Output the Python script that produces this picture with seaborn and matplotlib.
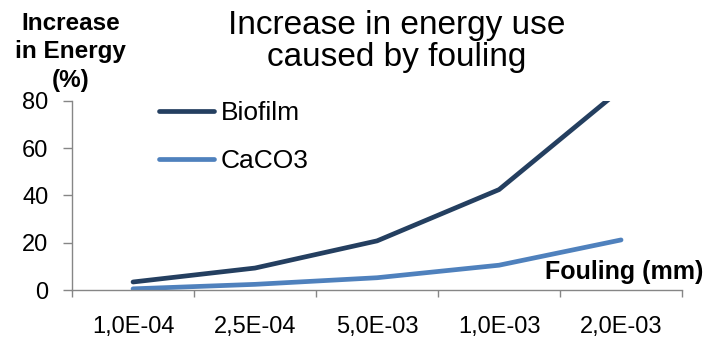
import matplotlib
matplotlib.use("Agg")
import matplotlib.pyplot as plt
import seaborn as sns
import pandas as pd
from matplotlib.ticker import FixedLocator

# Fouling thickness categories and the resulting increase in energy use (%)
fouling = ["1,0E-04", "2,5E-04", "5,0E-03", "1,0E-03", "2,0E-03"]
biofilm = [3.4, 9.3, 20.8, 42.5, 85.0]
caco3 = [0.5, 2.4, 5.2, 10.5, 21.2]

df = pd.DataFrame({
    "Fouling": fouling * 2,
    "Increase": biofilm + caco3,
    "Type": ["Biofilm"] * len(fouling) + ["CaCO3"] * len(fouling),
})

sns.set_style("white")
plt.rcParams["font.family"] = ["Liberation Sans", "DejaVu Sans"]
plt.rcParams["text.color"] = "black"

fig = plt.figure(figsize=(7.09, 3.40), dpi=100)
ax = fig.add_axes([0.1016, 0.147, 0.8604, 0.556])

palette = {"Biofilm": "#243F60", "CaCO3": "#4F81BD"}
sns.lineplot(data=df, x="Fouling", y="Increase", hue="Type", palette=palette,
             linewidth=3.4, sort=False, ax=ax, legend=True)

ax.set_xlim(-0.5, len(fouling) - 0.5)
ax.set_ylim(0, 80)
ax.set_yticks([0, 20, 40, 60, 80])
ax.set_xticks(range(len(fouling)))
ax.set_xticklabels(fouling)
ax.xaxis.set_minor_locator(FixedLocator([i - 0.5 for i in range(len(fouling) + 1)]))

spine_col = "#868686"
for s in ["top", "right"]:
    ax.spines[s].set_visible(False)
for s in ["left", "bottom"]:
    ax.spines[s].set_color(spine_col)
    ax.spines[s].set_linewidth(1.0)

ax.tick_params(axis="y", which="major", direction="out", length=6.5, width=1,
               color=spine_col, pad=10.5, labelsize=17, labelcolor="black", left=True)
ax.tick_params(axis="x", which="major", length=0, pad=19, labelsize=17,
               labelcolor="black")
ax.tick_params(axis="x", which="minor", direction="out", length=5, width=1,
               color=spine_col, bottom=True)
ax.set_xlabel("")
ax.set_ylabel("")

leg = ax.legend(loc="upper left", bbox_to_anchor=(0.125, 1.055), frameon=False,
                fontsize=19, handlelength=2.1, handletextpad=0.25,
                labelspacing=0.9, borderaxespad=0)
for h in leg.get_lines():
    h.set_linewidth(3.4)
for t in leg.get_texts():
    t.set_color("black")

fig.text(0.56, 0.972, "Increase in energy use\ncaused by fouling", ha="center",
         va="top", fontsize=24, linespacing=1.05, color="black")
fig.text(0.10, 0.965, "Increase\nin Energy\n(%)", ha="center", va="top",
         fontsize=17.5, fontweight="bold", linespacing=1.3, color="black")
fig.text(0.992, 0.20, "Fouling (mm)", ha="right", va="center",
         fontsize=18, fontweight="bold", color="black")

fig.savefig("out.png", dpi=100, facecolor="white")
